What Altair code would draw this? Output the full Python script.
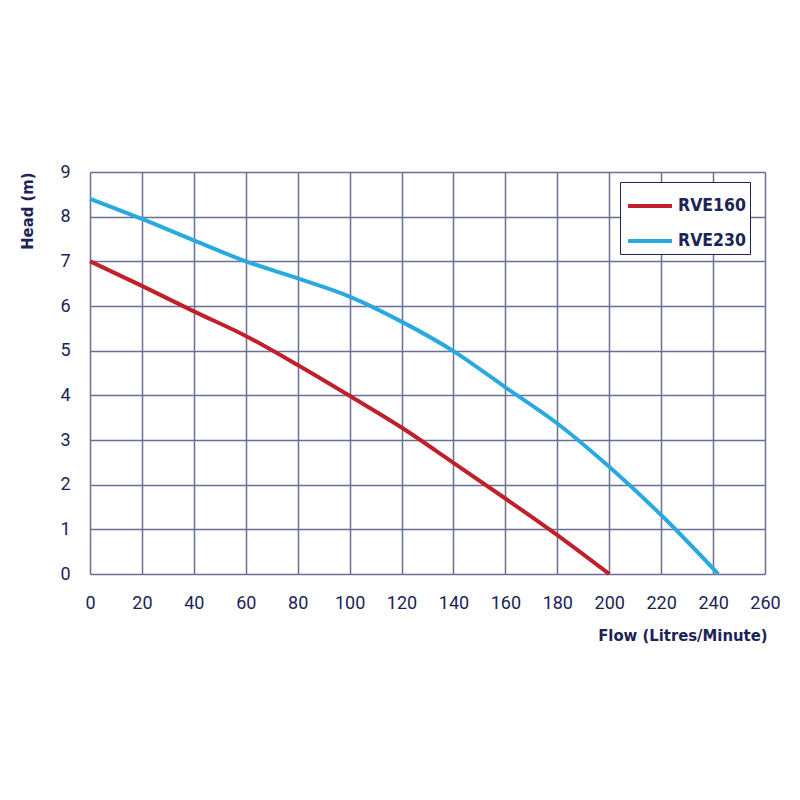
import altair as alt
import pandas as pd

# Data
rve160_flow = [0, 20, 40, 60, 80, 100, 120, 140, 160, 180, 200]
rve160_head = [7.0, 6.45, 5.88, 5.33, 4.68, 3.99, 3.28, 2.49, 1.69, 0.87, 0.0]

rve230_flow = [0, 20, 40, 60, 80, 100, 120, 140, 160, 180, 200, 220, 242]
rve230_head = [8.4, 7.95, 7.47, 7.0, 6.62, 6.21, 5.65, 4.99, 4.18, 3.37, 2.4, 1.32, 0.0]

series_names = ["RVE160", "RVE230"]
series_colors = ["#c0202a", "#29a9e0"]

x_ticks = list(range(0, 261, 20))
y_ticks = list(range(0, 10))

NAVY = "#1b2456"
GRID = "#6a7095"
TITLE_FONT = "'DejaVu Sans Condensed', 'DejaVu Sans', sans-serif"
LABEL_FONT = "Roboto, 'Noto Sans', sans-serif"

rows = []
for f, h in zip(rve160_flow, rve160_head):
    rows.append({"flow": f, "head": h, "pump": "RVE160"})
for f, h in zip(rve230_flow, rve230_head):
    rows.append({"flow": f, "head": h, "pump": "RVE230"})
df = pd.DataFrame(rows)

W, H = 675, 402

chart = alt.Chart(df).mark_line(strokeWidth=4, interpolate="monotone").encode(
    x=alt.X(
        "flow:Q",
        scale=alt.Scale(domain=[0, 260], nice=False, zero=True),
        axis=alt.Axis(
            values=x_ticks,
            title="Flow (Litres/Minute)",
            grid=True,
            gridColor=GRID,
            gridWidth=1.5,
            gridOpacity=1,
            domain=False,
            ticks=False,
            labelFlush=False,
            labelPadding=20,
            labelFont=LABEL_FONT,
            labelFontSize=18,
            labelColor=NAVY,
            titleFont=TITLE_FONT,
            titleFontSize=16.5,
            titleFontWeight="bold",
            titleColor=NAVY,
            titleAlign="right",
            titleBaseline="middle",
            titleX=W + 2,
            titleY=61,
        ),
    ),
    y=alt.Y(
        "head:Q",
        scale=alt.Scale(domain=[0, 9], nice=False),
        axis=alt.Axis(
            values=y_ticks,
            title="Head (m)",
            grid=True,
            gridColor=GRID,
            gridWidth=1.5,
            gridOpacity=1,
            domain=False,
            ticks=False,
            labelFlush=False,
            labelPadding=20,
            labelFont=LABEL_FONT,
            labelFontSize=18,
            labelColor=NAVY,
            titleFont=TITLE_FONT,
            titleFontSize=16.5,
            titleFontWeight="bold",
            titleColor=NAVY,
            titleAngle=270,
            titleAlign="right",
            titleBaseline="middle",
            titleX=-63,
            titleY=0,
        ),
    ),
    color=alt.Color(
        "pump:N",
        scale=alt.Scale(domain=series_names, range=series_colors),
        legend=alt.Legend(
            title=None,
            orient="none",
            legendX=530,
            legendY=10,
            direction="vertical",
            symbolType="M-1.22,0H1.22",
            symbolStrokeWidth=4,
            symbolSize=1296,
            symbolOffset=6,
            labelFont=TITLE_FONT,
            labelFontSize=17.5,
            labelFontWeight="bold",
            labelColor=NAVY,
            labelOffset=8,
            rowPadding=6,
            padding=4,
            strokeColor=NAVY,
            fillColor="white",
            cornerRadius=0,
        ),
    ),
).properties(
    width=W,
    height=H,
    autosize=alt.AutoSizeParams(type="none"),
    padding={"left": 82, "top": 164, "right": 20, "bottom": 100},
).configure_view(
    stroke=NAVY,
    strokeWidth=3,
).configure_legend(
    strokeWidth=2.5,
).configure(background="white")

chart.save("out.html", embed_options={"renderer": "svg", "actions": False})
